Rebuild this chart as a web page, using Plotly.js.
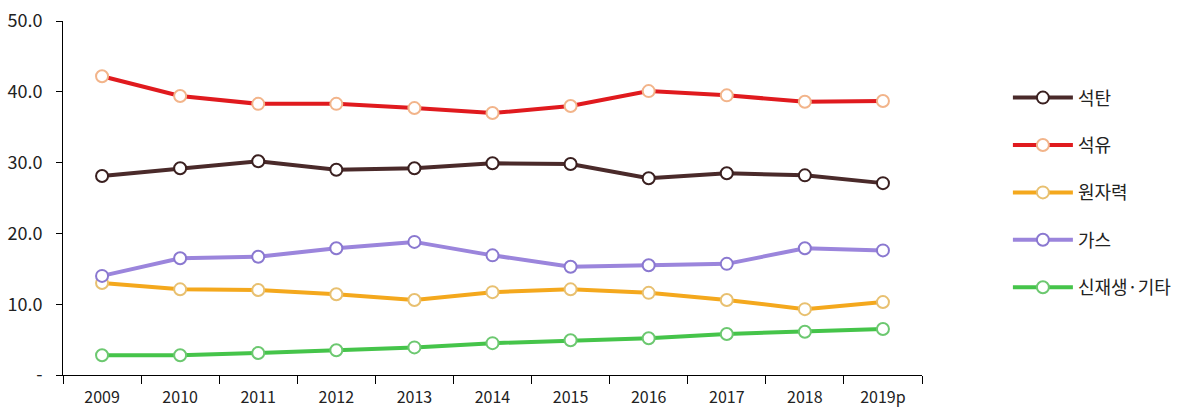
<!DOCTYPE html>
<html>
<head>
<meta charset="utf-8">
<script src="https://cdn.plot.ly/plotly-3.0.1.min.js"></script>
<style>html,body{margin:0;padding:0;background:#fff;}#chart{width:1201px;height:411px;}</style>
</head>
<body>
<div id="chart"></div>
<script>
const years = ["2009","2010","2011","2012","2013","2014","2015","2016","2017","2018","2019p"];
const seriesNames = ["석탄","석유","원자력","가스","신재생·기타"];
const coal    = [28.1, 29.2, 30.2, 29.0, 29.2, 29.9, 29.8, 27.8, 28.5, 28.2, 27.1];
const oil     = [42.2, 39.4, 38.3, 38.3, 37.7, 37.0, 38.0, 40.1, 39.5, 38.6, 38.7];
const nuclear = [13.0, 12.1, 12.0, 11.4, 10.6, 11.7, 12.1, 11.6, 10.6, 9.3, 10.3];
const gas     = [14.0, 16.5, 16.7, 17.9, 18.8, 16.9, 15.3, 15.5, 15.7, 17.9, 17.6];
const renew   = [2.8, 2.8, 3.1, 3.5, 3.9, 4.5, 4.9, 5.2, 5.8, 6.1, 6.5];
const yTickVals = [0, 10, 20, 30, 40, 50];
const yTickText = ["-", "10.0", "20.0", "30.0", "40.0", "50.0"];

const values = [coal, oil, nuclear, gas, renew];
const lineColors = ["#4a2a2a", "#e01a1e", "#f4a81d", "#9b85dc", "#45c44a"];
const markerLine = ["#3a2020", "#f2b48a", "#e8c070", "#8a78d0", "#6cc870"];

const traces = values.map((v, i) => ({
  x: years, y: v, name: seriesNames[i], type: "scatter", mode: "lines+markers",
  legendgroup: "g" + i,
  line: {color: lineColors[i], width: 4},
  marker: {symbol: "circle", size: 12, color: "#ffffff", line: {color: markerLine[i], width: 2}}
}));

const layout = {
  width: 1201, height: 411,
  margin: {l: 63, r: 279, t: 21, b: 36},
  paper_bgcolor: "#ffffff", plot_bgcolor: "#ffffff",
  font: {family: "'Noto Sans CJK KR', 'Noto Sans', sans-serif", color: "#222"},
  showlegend: true,
  legend: {x: 1.1, y: 0.835, xanchor: "left", yanchor: "top", font: {size: 18, color: "#222"},
           tracegroupgap: 21, itemwidth: 60, bgcolor: "rgba(0,0,0,0)"},
  xaxis: {type: "category", range: [-0.5, 10.5], showgrid: false, showline: true, linecolor: "#000", linewidth: 1,
          ticks: "outside", tickson: "boundaries", ticklen: 8, tickcolor: "#000",
          ticklabelstandoff: 8,
          tickfont: {size: 16, color: "#222"}, zeroline: false},
  yaxis: {range: [0, 50], showgrid: false, showline: true, linecolor: "#000", linewidth: 1,
          ticks: "outside", ticklen: 6, tickcolor: "#000", tickvals: yTickVals, ticktext: yTickText,
          ticklabelstandoff: 10,
          tickfont: {size: 18, color: "#222"}, zeroline: false}
};

Plotly.newPlot("chart", traces, layout, {displayModeBar: false, staticPlot: true});
</script>
</body>
</html>
